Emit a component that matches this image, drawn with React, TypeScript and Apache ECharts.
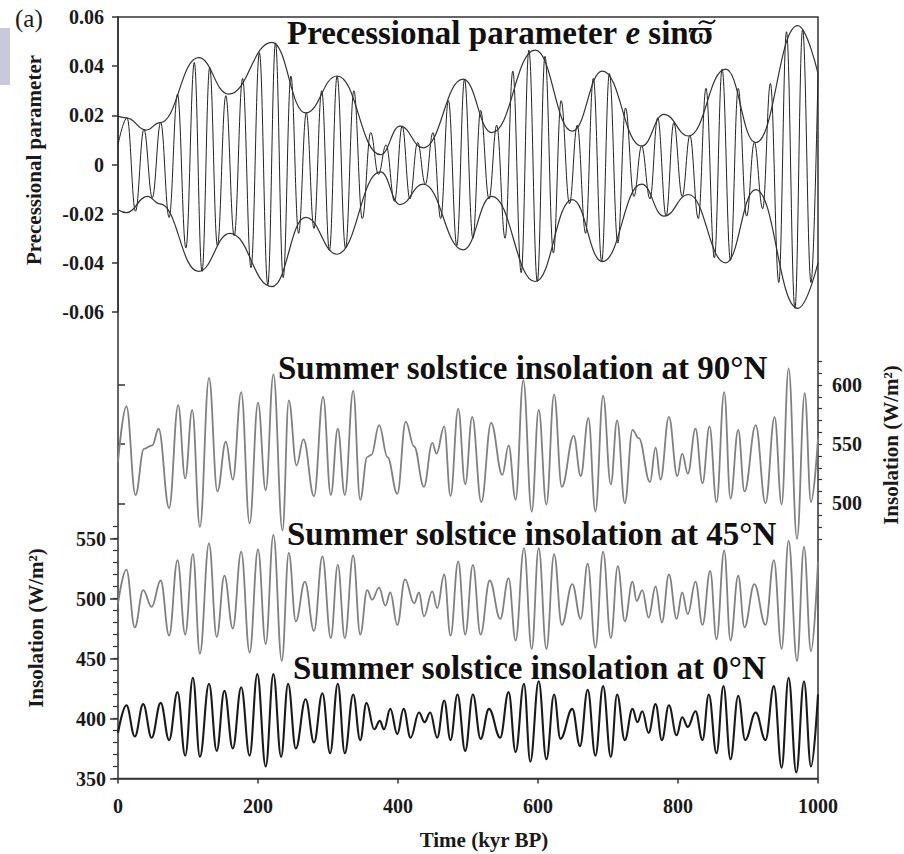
import React, { useEffect, useRef } from "react";
import * as echarts from "echarts";

// ---------- Data ----------
// Precessional parameter e·sinϖ : alternating maxima / minima (time kyr BP, value)
const precT = [0, 13, 25, 37, 49, 61, 73, 85, 97, 109, 120, 131, 142, 154, 166, 178, 190, 202, 214, 225, 236, 247, 258, 269, 280, 291, 302, 313, 325, 337, 349, 361, 372, 383, 395, 406, 417, 428, 439, 450, 461, 472, 484, 495, 507, 518, 530, 541, 553, 564, 576, 587, 599, 610, 622, 633, 645, 656, 668, 679, 691, 702, 714, 725, 737, 748, 760, 771, 783, 794, 806, 817, 829, 840, 852, 863, 875, 886, 898, 909, 921, 932, 944, 955, 967, 978, 990, 1000];
const precV = [0.008, 0.019, -0.019, 0.0143, -0.0135, 0.0172, -0.0216, 0.0286, -0.034, 0.0415, -0.0435, 0.0395, -0.033, 0.028, -0.029, 0.035, -0.042, 0.0455, -0.049, 0.0495, -0.046, 0.036, -0.028, 0.021, -0.026, 0.03, -0.035, 0.036, -0.034, 0.03, -0.022, 0.013, -0.004, 0.008, -0.015, 0.0157, -0.014, 0.009, -0.008, 0.013, -0.022, 0.026, -0.033, 0.0347, -0.03, 0.022, -0.014, 0.016, -0.03, 0.038, -0.044, 0.0465, -0.0476, 0.044, -0.036, 0.026, -0.016, 0.016, -0.028, 0.035, -0.0395, 0.037, -0.032, 0.023, -0.013, 0.0075, -0.014, 0.019, -0.021, 0.017, -0.013, 0.0118, -0.022, 0.031, -0.038, 0.0388, -0.039, 0.031, -0.021, 0.009, -0.018, 0.033, -0.048, 0.054, -0.0585, 0.055, -0.048, 0.037];

// Envelopes (upper / lower)
const envUT = [0, 12, 40, 60, 115, 158, 220, 268, 313, 375, 403, 436, 493, 534, 596, 649, 692, 748, 780, 815, 868, 911, 971, 1000];
const envUV = [0.0197, 0.019, 0.014, 0.017, 0.0435, 0.0286, 0.0497, 0.021, 0.036, 0.004, 0.0156, 0.0068, 0.0347, 0.013, 0.0465, 0.0136, 0.038, 0.0075, 0.0204, 0.0116, 0.0388, 0.0089, 0.0565, 0.037];
const envLT = [0, 12, 42, 60, 115, 160, 220, 268, 313, 375, 403, 436, 493, 534, 596, 649, 692, 748, 780, 815, 868, 911, 971, 1000];
const envLV = [-0.0184, -0.0196, -0.013, -0.016, -0.0435, -0.028, -0.0497, -0.0215, -0.0365, -0.003, -0.0163, -0.008, -0.0347, -0.013, -0.0476, -0.0143, -0.0395, -0.008, -0.021, -0.0122, -0.04, -0.0102, -0.0585, -0.04];

// Summer solstice insolation at 90°N (W/m²)
const n90T = [0, 12, 25, 37, 49, 58, 73, 86, 96, 106, 117, 130, 142, 154, 164, 176, 188, 200, 211, 222, 235, 244, 255, 265, 280, 293, 304, 314, 324, 336, 346, 356, 362, 373, 385, 399, 411, 423, 437, 449, 455, 466, 475, 486, 496, 506, 519, 533, 549, 558, 568, 579, 591, 601, 612, 623, 634, 651, 661, 672, 682, 693, 704, 713, 724, 735, 744, 760, 768, 775, 787, 799, 806, 814, 825, 835, 845, 855, 866, 875, 886, 895, 911, 925, 938, 948, 958, 970, 981, 990, 1000];
const n90V = [535, 582, 507, 546, 549, 563, 496, 583, 521, 579, 480, 606, 510, 552, 520, 594, 483, 585, 511, 609, 477, 587, 532, 554, 506, 590, 507, 563, 507, 595, 503, 539, 541, 566, 539, 508, 569, 548, 514, 551, 542, 565, 506, 580, 516, 573, 501, 568, 524, 549, 503, 604, 493, 579, 499, 592, 514, 557, 523, 572, 493, 591, 516, 570, 500, 562, 555, 518, 547, 520, 573, 523, 542, 525, 563, 517, 565, 501, 594, 504, 562, 510, 566, 500, 573, 499, 614, 470, 593, 501, 555];

// Summer solstice insolation at 45°N (W/m²)
const n45T = [0, 12, 24, 36, 48, 61, 73, 85, 96, 107, 117, 130, 141, 152, 164, 176, 188, 200, 211, 222, 234, 244, 254, 267, 280, 292, 304, 314, 324, 336, 346, 356, 363, 373, 382, 389, 399, 410, 423, 430, 437, 449, 456, 466, 475, 486, 496, 507, 518, 531, 546, 558, 568, 580, 591, 601, 612, 623, 634, 649, 661, 671, 682, 693, 704, 714, 724, 735, 741, 749, 758, 768, 777, 787, 798, 806, 814, 825, 835, 846, 855, 866, 875, 886, 895, 909, 925, 937, 948, 958, 970, 980, 990, 1000];
const n45V = [496, 524, 476, 507, 493, 515, 469, 532, 470, 537, 454, 546, 468, 519, 475, 539, 455, 541, 462, 553, 448, 538, 481, 514, 473, 535, 467, 528, 467, 536, 470, 507, 499, 509, 494, 505, 478, 516, 496, 505, 485, 506, 492, 520, 469, 531, 470, 528, 470, 515, 483, 517, 465, 542, 458, 542, 458, 537, 478, 512, 483, 529, 459, 539, 467, 527, 481, 514, 498, 507, 484, 510, 480, 520, 483, 505, 487, 514, 478, 523, 466, 540, 465, 519, 476, 512, 478, 532, 458, 548, 448, 543, 456, 531];

// Summer solstice insolation at 0°N (W/m²)
const n0T = [0, 12, 24, 36, 48, 61, 73, 85, 96, 107, 117, 130, 141, 152, 164, 176, 188, 199, 211, 222, 233, 243, 254, 268, 280, 292, 303, 314, 324, 336, 346, 355, 366, 374, 380, 389, 399, 408, 418, 430, 438, 446, 456, 466, 475, 485, 496, 507, 518, 530, 546, 558, 568, 580, 589, 601, 612, 623, 632, 649, 660, 671, 682, 693, 704, 713, 724, 735, 742, 749, 758, 768, 777, 787, 798, 806, 814, 825, 835, 844, 855, 865, 875, 886, 896, 911, 925, 937, 948, 958, 969, 980, 990, 1000];
const n0V = [388, 411, 385, 412, 384, 413, 382, 422, 369, 434, 368, 429, 373, 423, 375, 426, 369, 437, 360, 437, 368, 429, 375, 416, 380, 421, 371, 429, 371, 420, 382, 413, 391, 398, 391, 408, 387, 408, 384, 405, 397, 405, 384, 415, 382, 420, 373, 420, 383, 408, 384, 422, 372, 429, 364, 431, 366, 420, 383, 408, 377, 424, 369, 427, 368, 420, 382, 408, 397, 406, 388, 412, 382, 411, 386, 401, 393, 406, 382, 420, 371, 427, 366, 419, 382, 405, 382, 427, 359, 434, 355, 431, 360, 420];

// Axis ticks
const timeTicks = [0, 200, 400, 600, 800, 1000];
const n90Major = [500, 550, 600];
const n90Minor = [470, 480, 490, 500, 510, 520, 530, 540, 550, 560, 570, 580, 590, 600, 610, 620];
const lowMajor = [350, 400, 450, 500, 550];
const lowMinor = [350, 360, 370, 380, 390, 400, 410, 420, 430, 440, 450, 460, 470, 480, 490, 500, 510, 520, 530, 540, 550, 560];

// ---------- Styling ----------
const FONT = "Liberation Serif";
const INK = "#1a1a1a";
const GRAY = "#808080";

const zip = (t: number[], v: number[]) => t.map((x, i) => [x, v[i]]);

const tickLabel = { fontFamily: FONT, fontWeight: "bold" as const, fontSize: 20, color: INK };

function hiddenX(gridIndex: number) {
  return { gridIndex, type: "value", min: 0, max: 1000, show: false };
}

function lineSeries(name: string, xi: number, yi: number, data: number[][], color: string, width: number, smooth: number) {
  return {
    name,
    type: "line",
    xAxisIndex: xi,
    yAxisIndex: yi,
    data,
    symbol: "none",
    smooth,
    smoothMonotone: "x",
    clip: false,
    lineStyle: { color, width },
    silent: true,
  };
}

function buildOption() {
  const titleRich = {
    b: { fontFamily: FONT, fontWeight: "bold", fontSize: 33, fill: "#111" },
    i: { fontFamily: FONT, fontWeight: "bold", fontStyle: "italic", fontSize: 33, fill: "#111" },
  };
  const titleStyle = (text: string) => ({
    text,
    fontFamily: FONT,
    fontWeight: "bold",
    fontSize: 33,
    fill: "#111",
    align: "left",
    verticalAlign: "middle",
  });
  const rotLabel = (text: string, x: number, y: number) => ({
    type: "text",
    x,
    y,
    rotation: Math.PI / 2,
    z: 10,
    style: {
      text,
      fontFamily: FONT,
      fontWeight: "bold",
      fontSize: 21,
      fill: INK,
      align: "center",
      verticalAlign: "middle",
    },
  });

  return {
    animation: false,
    backgroundColor: "#ffffff",
    textStyle: { fontFamily: FONT },
    grid: [
      { left: 118, top: 17, width: 700, height: 761.5, show: true, borderColor: "#333", borderWidth: 1.5, backgroundColor: "transparent" },
      { left: 118, top: 17, width: 700, height: 295 },
      { left: 118, top: 361.3, width: 700, height: 177.5 },
      { left: 118, top: 526.5, width: 700, height: 252 },
    ],
    xAxis: [
      {
        gridIndex: 0,
        type: "value",
        min: 0,
        max: 1000,
        interval: 200,
        axisLine: { show: true, lineStyle: { color: "#333", width: 1.5 } },
        axisTick: { show: true, inside: false, length: 5, customValues: timeTicks, lineStyle: { color: "#333", width: 1.5 } },
        axisLabel: { ...tickLabel, margin: 17, customValues: timeTicks, formatter: (v: number) => String(v) },
        splitLine: { show: false },
      },
      hiddenX(1),
      hiddenX(2),
      hiddenX(3),
    ],
    yAxis: [
      { gridIndex: 0, type: "value", min: 0, max: 1, show: false },
      {
        gridIndex: 1,
        type: "value",
        min: -0.06,
        max: 0.06,
        interval: 0.02,
        axisLine: { show: true, lineStyle: { color: "#333", width: 1.5 } },
        axisTick: { show: true, inside: false, length: 6, lineStyle: { color: "#333", width: 1.5 } },
        axisLabel: {
          ...tickLabel,
          margin: 14,
          formatter: (v: number) => (Math.abs(v) < 1e-9 ? "0" : v.toFixed(2)),
        },
        splitLine: { show: false },
      },
      {
        gridIndex: 2,
        type: "value",
        position: "right",
        min: 470,
        max: 620,
        axisLine: { show: false },
        axisTick: { show: true, inside: false, length: 7, customValues: n90Major, lineStyle: { color: "#333", width: 1.5 } },
        axisLabel: { ...tickLabel, margin: 14, customValues: n90Major, formatter: (v: number) => String(v) },
        splitLine: { show: false },
      },
      {
        gridIndex: 2,
        type: "value",
        position: "right",
        min: 470,
        max: 620,
        axisLine: { show: false },
        axisTick: { show: true, inside: false, length: 4, customValues: n90Minor, lineStyle: { color: "#333", width: 1.2 } },
        axisLabel: { show: false },
        splitLine: { show: false },
      },
      {
        gridIndex: 3,
        type: "value",
        position: "left",
        min: 350,
        max: 560,
        axisLine: { show: false },
        axisTick: { show: true, inside: false, length: 8, customValues: lowMajor, lineStyle: { color: "#333", width: 1.5 } },
        axisLabel: { ...tickLabel, margin: 12, customValues: lowMajor, formatter: (v: number) => String(v) },
        splitLine: { show: false },
      },
      {
        gridIndex: 3,
        type: "value",
        position: "left",
        min: 350,
        max: 560,
        axisLine: { show: false },
        axisTick: { show: true, inside: false, length: 5, customValues: lowMinor, lineStyle: { color: "#333", width: 1.2 } },
        axisLabel: { show: false },
        splitLine: { show: false },
      },
    ],
    series: [
      lineSeries("Precessional parameter", 1, 1, zip(precT, precV), "#222", 1, 0.4),
      lineSeries("Upper envelope", 1, 1, zip(envUT, envUV), "#333", 1.2, 0.45),
      lineSeries("Lower envelope", 1, 1, zip(envLT, envLV), "#333", 1.2, 0.45),
      lineSeries("90°N", 2, 2, zip(n90T, n90V), GRAY, 1.8, 0.4),
      lineSeries("45°N", 3, 4, zip(n45T, n45V), GRAY, 1.8, 0.4),
      lineSeries("0°N", 3, 4, zip(n0T, n0V), INK, 2.1, 0.4),
    ],
    graphic: [
      { type: "rect", shape: { x: 0, y: 28, width: 10, height: 57 }, style: { fill: "#c9c9db" }, z: 5 },
      {
        type: "text",
        x: 15,
        y: 18,
        z: 10,
        style: { text: "(a)", fontFamily: FONT, fontSize: 25, fill: INK, align: "left", verticalAlign: "middle" },
      },
      {
        type: "text",
        x: 287,
        y: 33,
        z: 10,
        style: {
          text: "{b|Precessional parameter }{i|e}{b| sin\u03D6}",
          rich: titleRich,
          fontFamily: FONT,
          fontWeight: "bold",
          fontSize: 33,
          fill: "#111",
          align: "left",
          verticalAlign: "middle",
        },
      },
      // tilde accent over the varpi, drawn as a small curve
      {
        type: "bezierCurve",
        z: 11,
        shape: { x1: 699, y1: 24, cpx1: 704, cpy1: 16, cpx2: 710, cpy2: 29, x2: 715, y2: 20 },
        style: { stroke: "#111", lineWidth: 2, fill: "none" },
      },
      { type: "text", x: 278, y: 367.5, z: 10, style: titleStyle("Summer solstice insolation at 90°N") },
      { type: "text", x: 287, y: 534, z: 10, style: titleStyle("Summer solstice insolation at 45°N") },
      { type: "text", x: 293, y: 668, z: 10, style: titleStyle("Summer solstice insolation at 0°N") },
      rotLabel("Precessional parameter", 34, 160),
      rotLabel("Insolation (W/m²)", 36, 628),
      rotLabel("Insolation (W/m²)", 891, 445),
      {
        type: "text",
        x: 484,
        y: 840,
        z: 10,
        style: { text: "Time (kyr BP)", fontFamily: FONT, fontWeight: "bold", fontSize: 21, fill: INK, align: "center", verticalAlign: "middle" },
      },
    ],
  };
}

export default function App() {
  const ref = useRef<HTMLDivElement>(null);
  useEffect(() => {
    if (!ref.current) return;
    const chart = echarts.init(ref.current, null, { renderer: "svg" });
    chart.setOption(buildOption() as any);
    return () => chart.dispose();
  }, []);
  return <div ref={ref} style={{ position: "absolute", left: 0, top: 0, width: 904, height: 854 }} />;
}
